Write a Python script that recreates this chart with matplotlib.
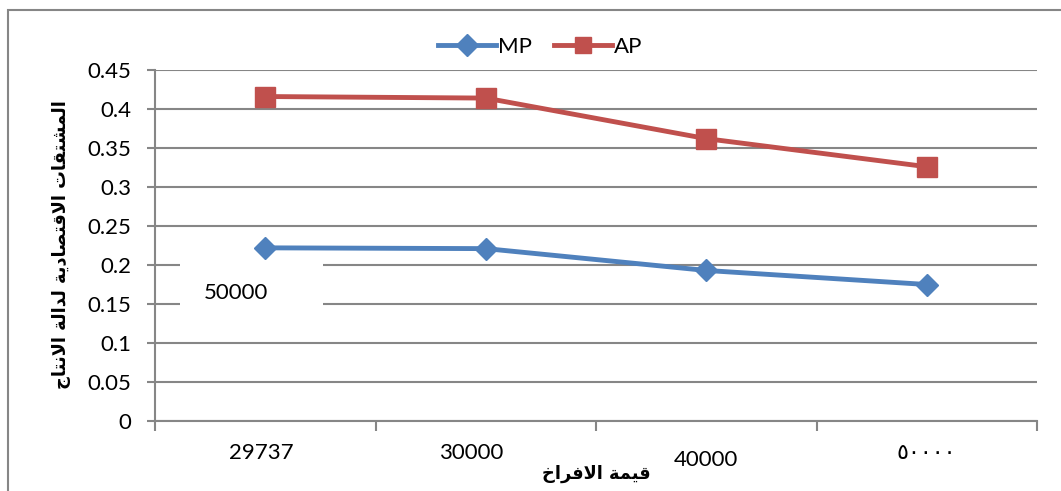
import numpy as np
import matplotlib.pyplot as plt
from matplotlib.patches import Rectangle
from matplotlib.lines import Line2D

# Data
categories = ['29737', '30000', '40000', '\u0665\u0660\u0660\u0660\u0660']
mp = [0.222, 0.221, 0.193, 0.175]
ap = [0.416, 0.414, 0.362, 0.326]
yticks = [0, 0.05, 0.1, 0.15, 0.2, 0.25, 0.3, 0.35, 0.4, 0.45]
ylabel_ar = 'المشتقات الاقتصادية لدالة الانتاج'
xlabel_ar = 'قيمة الافراخ'
note_text = '50000'

# Minimal Arabic shaping (matplotlib has no complex text layout)
# letter: (isolated, final, initial, medial); None -> right-joining only
FORMS = {
    'ا': (0xFE8D, 0xFE8E, None, None),
    'ة': (0xFE93, 0xFE94, None, None),
    'ت': (0xFE95, 0xFE96, 0xFE97, 0xFE98),
    'ج': (0xFE9D, 0xFE9E, 0xFE9F, 0xFEA0),
    'خ': (0xFEA5, 0xFEA6, 0xFEA7, 0xFEA8),
    'د': (0xFEA9, 0xFEAA, None, None),
    'ر': (0xFEAD, 0xFEAE, None, None),
    'ش': (0xFEB5, 0xFEB6, 0xFEB7, 0xFEB8),
    'ص': (0xFEB9, 0xFEBA, 0xFEBB, 0xFEBC),
    'ف': (0xFED1, 0xFED2, 0xFED3, 0xFED4),
    'ق': (0xFED5, 0xFED6, 0xFED7, 0xFED8),
    'ل': (0xFEDD, 0xFEDE, 0xFEDF, 0xFEE0),
    'م': (0xFEE1, 0xFEE2, 0xFEE3, 0xFEE4),
    'ن': (0xFEE5, 0xFEE6, 0xFEE7, 0xFEE8),
    'ي': (0xFEF1, 0xFEF2, 0xFEF3, 0xFEF4),
    'LA': (0xFEFB, 0xFEFC, None, None),
}


def shape(text):
    toks = []
    i = 0
    while i < len(text):
        if text[i] == 'ل' and i + 1 < len(text) and text[i + 1] == 'ا':
            toks.append('LA')
            i += 2
        else:
            toks.append(text[i])
            i += 1
    out = []
    for k, t in enumerate(toks):
        if t not in FORMS:
            out.append(t)
            continue
        f = FORMS[t]
        prev = toks[k - 1] if k > 0 else None
        nxt = toks[k + 1] if k + 1 < len(toks) else None
        jp = prev in FORMS and FORMS[prev][2] is not None
        jn = f[2] is not None and nxt in FORMS
        if jp and jn:
            c = f[3]
        elif jp:
            c = f[1]
        elif jn:
            c = f[2]
        else:
            c = f[0]
        out.append(chr(c))
    return ''.join(out)[::-1]


blue = '#4F81BD'
red = '#C0504D'
grey = '#868686'

plt.rcParams['font.family'] = ['Lato', 'DejaVu Sans']

fig = plt.figure(figsize=(10.61, 4.91), dpi=100)
ax = fig.add_axes([155 / 1061, 1 - 421 / 491, 882 / 1061, 351 / 491])

x = np.arange(len(categories))
ax.plot(x, mp, color=blue, lw=3.5, marker='D', ms=11, zorder=4, label='MP')
ax.plot(x, ap, color=red, lw=3.5, marker='s', ms=14, zorder=4, label='AP')

ax.set_xlim(-0.5, len(categories) - 0.5)
ax.set_ylim(0, 0.45)
ax.set_yticks(yticks)
ax.set_yticklabels([f'{v:g}' for v in yticks], fontsize=16)
ax.set_xticks(np.arange(len(categories) + 1) - 0.5)
ax.set_xticklabels([])
ax.grid(axis='y', color=grey, lw=1.5, zorder=1)
ax.set_axisbelow(True)
for s in ['top', 'right']:
    ax.spines[s].set_visible(False)
for s in ['left', 'bottom']:
    ax.spines[s].set_color(grey)
    ax.spines[s].set_linewidth(1.5)
ax.tick_params(axis='y', length=6, color=grey, width=1.5, pad=11)
ax.tick_params(axis='x', length=7, color=grey, width=1.5)

# x category labels (placed individually as in the original)
offsets = [(-4, -32), (-15, -32), (0, -39), (0, -32)]
sizes = [16, 16, 16, 16]
for xi, lab, off, fs in zip(x, categories, offsets, sizes):
    ax.annotate(lab, xy=(xi, 0), xycoords=('data', 'axes fraction'),
                xytext=off, textcoords='offset pixels',
                ha='center', va='center', fontsize=fs)

# white note box with "50000"
ax.add_patch(Rectangle((25 / 882, 0.285), 143 / 882, 0.205,
                       transform=ax.transAxes, facecolor='white',
                       edgecolor='none', zorder=2))
ax.text(81 / 882, 0.365, note_text, transform=ax.transAxes,
        ha='center', va='center', fontsize=16, zorder=3)

# axis titles
fig.text(62 / 1061, 1 - 245 / 491, shape(ylabel_ar), rotation=90,
         ha='center', va='center', fontsize=12.8, fontweight='bold',
         family='DejaVu Sans')
fig.text(596 / 1061, 1 - 474 / 491, shape(xlabel_ar),
         ha='center', va='center', fontsize=12.8, fontweight='bold',
         family='DejaVu Sans')

# legend
handles = [Line2D([], [], color=blue, lw=3.5, marker='D', ms=11),
           Line2D([], [], color=red, lw=3.5, marker='s', ms=12)]
fig.legend(handles, ['MP', 'AP'], loc='center', bbox_to_anchor=(540 / 1061, 1 - 47 / 491),
           ncol=2, frameon=False, fontsize=16, handlelength=2.6,
           handletextpad=0.1, columnspacing=1.0)

# outer chart border (clipped at right/bottom like the source)
fig.add_artist(Rectangle((8 / 1061, -0.1), 1.2, 1 - 10 / 491 + 0.1,
                         transform=fig.transFigure, facecolor='none',
                         edgecolor=grey, lw=1.5))

fig.savefig('out.png', dpi=100)
